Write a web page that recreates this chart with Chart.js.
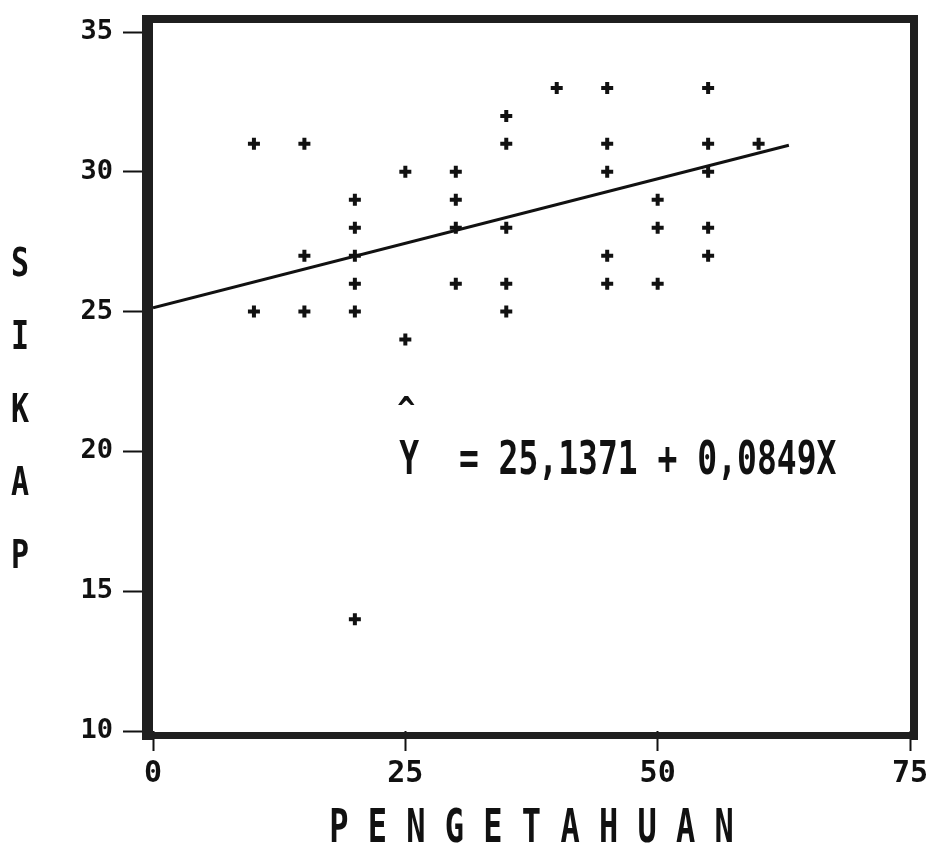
<!DOCTYPE html>
<html>
<head>
<meta charset="utf-8">
<title>Sikap vs Pengetahuan</title>
<script src="https://cdn.jsdelivr.net/npm/chart.js@4.4.1/dist/chart.umd.min.js"></script>
<style>
  html, body { margin: 0; padding: 0; background: #fff; }
  canvas { display: block; }
</style>
</head>
<body>
<canvas id="myChart" width="938" height="859"></canvas>
<script>
// data
const pengetahuan = [10,10, 15,15,15, 20,20,20,20,20,20, 25,25, 30,30,30,30, 35,35,35,35,35, 40, 45,45,45,45,45, 50,50,50, 55,55,55,55,55, 60]
const sikap       = [31,25, 31,27,25, 29,28,27,26,25,14, 30,24, 30,29,28,26, 32,31,28,26,25, 33, 33,31,30,27,26, 29,28,26, 33,31,30,28,27, 31]

// regression line as drawn (start / end)
const garisX = [0, 63]
const garisY = [25.14, 30.95]

const xTicks = [0, 25, 50, 75]
const yTicks = [10, 15, 20, 25, 30, 35]

const persamaan = "Y  = 25,1371 + 0,0849X"
const judulX = "PENGETAHUAN"
const judulY = "SIKAP"

const ink = '#111'
const mono = '"DejaVu Sans Mono", "Liberation Mono", monospace'

function tallText(ctx, txt, x, y, size, sy, align, weight) {
    ctx.save()
    ctx.font = (weight || 'bold') + ' ' + size + 'px ' + mono
    ctx.fillStyle = ink
    ctx.textAlign = align
    ctx.textBaseline = 'middle'
    ctx.translate(x, y)
    ctx.scale(1, sy)
    ctx.fillText(txt, 0, 0)
    ctx.restore()
}

const printerPlugin = {
    id: 'printer',
    afterDraw(chart) {
        const ctx = chart.ctx
        const a = chart.chartArea
        const sx = chart.scales.x, sy = chart.scales.y

        // heavy frame
        ctx.save()
        ctx.fillStyle = '#1f1f1f'
        ctx.fillRect(a.left - 11, a.top - 17, 11, a.bottom - a.top + 26)
        ctx.fillRect(a.left - 11, a.top - 17, a.right - a.left + 19, 8)
        ctx.fillRect(a.right, a.top - 17, 8, a.bottom - a.top + 26)
        ctx.fillRect(a.left - 11, a.bottom + 1, a.right - a.left + 19, 7)
        ctx.restore()

        // equation
        const ex = sx.getPixelForValue(24.4)
        tallText(ctx, '^', ex + 7, sy.getPixelForValue(21.4), 30, 1.1, 'center')
        tallText(ctx, persamaan, ex, sy.getPixelForValue(19.6), 33, 1.38, 'left', '600')

        // axis titles
        tallText(ctx, judulX.split('').join(' '), (a.left + a.right) / 2, 830, 32, 1.45, 'center')
        judulY.split('').forEach(function (ch, i) {
            tallText(ctx, ch, 20, 266 + 73 * i, 30, 1.3, 'center')
        })
    }
}

const ctx = document.getElementById("myChart")
const myChart = new Chart(ctx, {
    type: 'scatter',
    data: {
        datasets: [{
            type: 'line',
            data: garisX.map((x, i) => ({ x: x, y: garisY[i] })),
            borderColor: ink,
            borderWidth: 3,
            pointRadius: 0,
            fill: false
        }, {
            data: pengetahuan.map((x, i) => ({ x: x, y: sikap[i] })),
            pointStyle: 'cross',
            pointRadius: 6,
            pointBorderWidth: 4,
            pointBorderColor: ink,
            pointBackgroundColor: ink
        }]
    },
    options: {
        responsive: false,
        animation: false,
        layout: { padding: { left: 0, right: 28, top: 32, bottom: 0 } },
        plugins: { legend: { display: false }, tooltip: { enabled: false } },
        scales: {
            x: {
                type: 'linear',
                min: 0,
                max: 75,
                afterBuildTicks: s => { s.ticks = xTicks.map(v => ({ value: v })) },
                afterFit: s => { s.height = 128 },
                border: { display: false },
                grid: { drawOnChartArea: false, drawTicks: true, tickLength: 20, tickWidth: 2, tickColor: ink },
                ticks: { color: ink, padding: 5, maxRotation: 0, font: { family: mono, size: 30, weight: 'bold' } }
            },
            y: {
                type: 'linear',
                min: 10,
                max: 35,
                afterBuildTicks: s => { s.ticks = yTicks.map(v => ({ value: v })) },
                afterFit: s => { s.width = 153 },
                border: { display: false },
                grid: { drawOnChartArea: false, drawTicks: true, tickLength: 30, tickWidth: 2, tickColor: ink },
                ticks: { color: ink, padding: 10, font: { family: mono, size: 27, weight: 'bold' } }
            }
        }
    },
    plugins: [printerPlugin]
})
</script>
</body>
</html>
